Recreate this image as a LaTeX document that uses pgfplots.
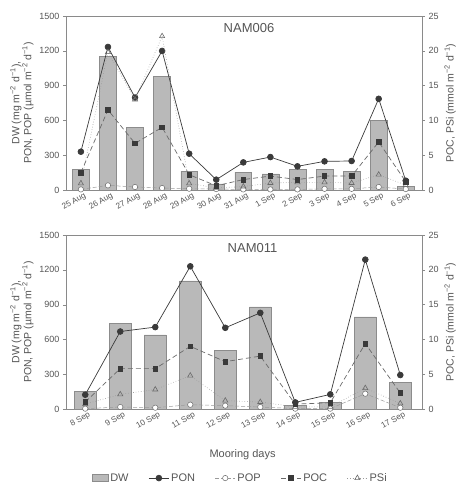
\documentclass[border=0pt]{standalone}
\usepackage{fontspec}
\setmainfont{Liberation Sans}
\usepackage{pgfplots}
\pgfplotsset{compat=1.18}
\definecolor{txt}{HTML}{555555}
\definecolor{ax}{HTML}{8A8A8A}
\definecolor{barf}{HTML}{B9B9B9}
\definecolor{bare}{HTML}{8C8C8C}
\definecolor{dk}{HTML}{3A3A3A}
\definecolor{md}{HTML}{6A6A6A}
\definecolor{lt}{HTML}{9A9A9A}

\pgfplotsset{
  panelL/.style={scale only axis, width=356pt, height=174pt, ymin=0, ymax=1500,
    ytick={0,300,...,1500}, ytick pos=left, tick align=outside,
    xtick pos=bottom,
    major tick length=3pt, tick style={ax}, axis line style={ax},
    major x tick style={draw=none},
    /pgf/number format/assume math mode=true,
    /pgf/number format/1000 sep={},
    yticklabel style={font=\fontsize{9}{10}\selectfont, text=txt},
    xticklabel style={font=\fontsize{8.2}{10}\selectfont, text=txt, rotate=30, anchor=east, xshift=4pt, yshift=-4pt, inner sep=1pt},
    ylabel style={at={(axis description cs:-0.124,0.5)}, anchor=center, align=center, font=\fontsize{10.5}{12}\selectfont, text=txt},
  },
  panelR/.style={scale only axis, width=356pt, height=174pt, ymin=0, ymax=25,
    ytick={0,5,...,25}, axis y line*=right, axis x line=none, tick align=outside,
    major tick length=3pt, tick style={ax}, axis line style={ax},
    /pgf/number format/assume math mode=true,
    yticklabel style={font=\fontsize{9}{10}\selectfont, text=txt},
    ylabel style={at={(axis description cs:1.079,0.5)}, anchor=center, rotate=0, font=\fontsize{10.5}{12}\selectfont, text=txt},
  },
  dwstyle/.style={ybar, bar width=0.62, fill=barf, draw=bare, line width=0.5pt},
  ponstyle/.style={dk, line width=0.7pt, mark=*, mark size=2.9pt, mark options={solid, fill=dk, draw=dk}},
  popstyle/.style={lt, line width=0.5pt, dash pattern=on 4pt off 2pt, mark=*, mark size=2.7pt, mark options={solid, fill=white, draw=md}},
  pocstyle/.style={md, line width=0.7pt, dash pattern=on 5pt off 3pt, mark=square*, mark size=2.3pt, mark options={solid, fill=dk, draw=dk}},
  psistyle/.style={lt, line width=0.6pt, dotted, mark=triangle, mark size=3pt, mark options={solid, draw=md, fill=white}},
  barleg/.style={legend image code/.code={\draw[##1] (0cm,-0.12cm) rectangle (0.55cm,0.12cm);}},
  lineleg/.style={legend image code/.code={\draw[##1] (0cm,0cm) -- (0.7cm,0cm);\draw[##1,mark repeat=2,mark phase=2] plot coordinates {(0cm,0cm) (0.35cm,0cm) (0.7cm,0cm)};}},
}

\begin{document}
\begin{tikzpicture}
\useasboundingbox (0,0) rectangle (463pt,485pt);

% ---------------- Top panel NAM006 ----------------
\begin{axis}[panelL, at={(66pt,295pt)}, anchor=south west,
  xmin=-0.55, xmax=12.6,
  xtick={0,...,12},
  xticklabels={25 Aug,26 Aug,27 Aug,28 Aug,29 Aug,30 Aug,31 Aug,1 Sep,2 Sep,3 Sep,4 Sep,5 Sep,6 Sep},
  ylabel={DW (mg m\textsuperscript{−2} d\textsuperscript{−1}),\\PON, POP (µmol m\textsuperscript{−2} d\textsuperscript{−1})},
]
\addplot[dwstyle] coordinates {(0,175) (1,1153) (2,542) (3,978) (4,163) (5,52) (6,155) (7,140) (8,178) (9,178) (10,160) (11,602) (12,29)};
\addplot[ponstyle] coordinates {(0,330) (1,1233) (2,797) (3,1199) (4,313) (5,89) (6,238) (7,284) (8,204) (9,247) (10,250) (11,786) (12,80)};
\addplot[popstyle] coordinates {(0,5) (1,40) (2,26) (3,17) (4,11) (5,8) (6,5) (7,5) (8,5) (9,10) (10,10) (11,26) (12,8)};
\node[font=\fontsize{13}{14}\selectfont, text=txt] at (axis description cs:0.514,0.93) {NAM006};
\end{axis}
\begin{axis}[panelR, at={(66pt,295pt)}, anchor=south west,
  xmin=-0.55, xmax=12.6,
  ylabel={POC, PSi (mmol m\textsuperscript{−2} d\textsuperscript{−1})},
]
\addplot[psistyle] coordinates {(0,0.95) (1,19.8) (2,13.0) (3,22.1) (4,0.95) (5,0.3) (6,0.5) (7,1.0) (8,1.1) (9,1.1) (10,1.0) (11,2.2) (12,0.7)};
\addplot[pocstyle] coordinates {(0,2.5) (1,11.5) (2,6.7) (3,9.0) (4,2.2) (5,0.6) (6,1.5) (7,2.0) (8,1.5) (9,2.0) (10,2.0) (11,6.9) (12,1.2)};
\end{axis}

% ---------------- Bottom panel NAM011 ----------------
\begin{axis}[panelL, at={(66pt,76pt)}, anchor=south west,
  xmin=-0.55, xmax=9.62,
  xtick={0,...,9},
  xticklabels={8 Sep,9 Sep,10 Sep,11 Sep,12 Sep,13 Sep,14 Sep,15 Sep,16 Sep,17 Sep},
  ylabel={DW (mg m\textsuperscript{−2} d\textsuperscript{−1}),\\PON, POP (µmol m\textsuperscript{−2} d\textsuperscript{−1})},
  xlabel={Mooring days},
  xlabel style={at={(axis description cs:0.496,-0.264)}, anchor=center, font=\fontsize{11}{12}\selectfont, text=txt},
  legend style={at={(axis description cs:0.49,-0.397)}, anchor=center, draw=none, fill=none,
    legend columns=5, font=\fontsize{11}{12}\selectfont, text=txt,
    /tikz/every even column/.append style={column sep=18pt}},
  legend cell align=left,
  lineleg,
]
\addplot[dwstyle, barleg] coordinates {(0,149) (1,740) (2,640) (3,1104) (4,508) (5,880) (6,34) (7,60) (8,795) (9,229)};
\addlegendentry{DW}
\addplot[ponstyle] coordinates {(0,123) (1,668) (2,706) (3,1230) (4,700) (5,829) (6,57) (7,126) (8,1288) (9,293)};
\addlegendentry{PON}
\addplot[popstyle] coordinates {(0,3) (1,17) (2,11) (3,37) (4,29) (5,17) (6,3) (7,3) (8,132) (9,11)};
\addlegendentry{POP}
\addlegendimage{pocstyle}
\addlegendentry{POC}
\addlegendimage{psistyle}
\addlegendentry{PSi}
\node[font=\fontsize{13}{14}\selectfont, text=txt] at (axis description cs:0.524,0.925) {NAM011};
\end{axis}
\begin{axis}[panelR, at={(66pt,76pt)}, anchor=south west,
  xmin=-0.55, xmax=9.62,
  ylabel={POC, PSi (mmol m\textsuperscript{−2} d\textsuperscript{−1})},
]
\addplot[psistyle] coordinates {(0,0.7) (1,2.1) (2,2.8) (3,4.8) (4,1.2) (5,1.0) (6,0.3) (7,0.3) (8,3.0) (9,0.8)};
\addplot[pocstyle] coordinates {(0,1.0) (1,5.8) (2,5.8) (3,9.0) (4,6.8) (5,7.6) (6,0.7) (7,0.9) (8,9.4) (9,2.3)};
\end{axis}
\end{tikzpicture}
\end{document}
